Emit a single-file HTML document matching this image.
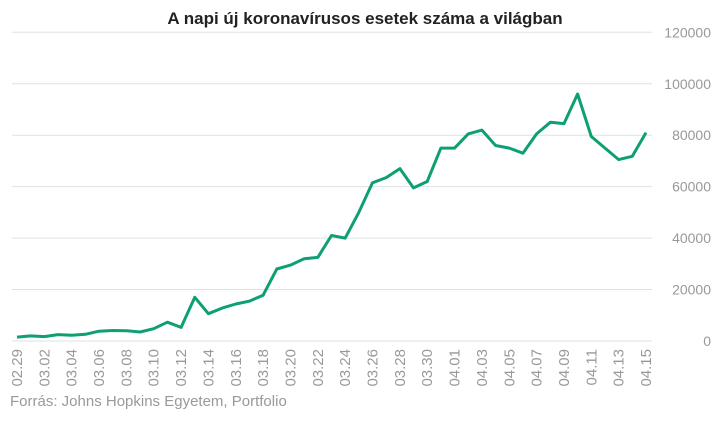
<!DOCTYPE html>
<html><head><meta charset="utf-8"><style>
body{margin:0;background:#fff;width:718px;height:417px;overflow:hidden;font-family:"Liberation Sans",sans-serif}
</style></head><body>
<svg width="718" height="417">
<text x="365" y="24" text-anchor="middle" font-size="17" font-weight="bold" fill="#222">A napi új koronavírusos esetek száma a világban</text>
<g id="grid"></g><g id="xl"></g>
<polyline id="line" fill="none" stroke="#0e9f74" stroke-width="3" stroke-linejoin="round"/>
<text x="10" y="406" font-size="15" fill="#999">Forrás: Johns Hopkins Egyetem, Portfolio</text>
</svg>
<script>
const dates=["02.29","03.01","03.02","03.03","03.04","03.05","03.06","03.07","03.08","03.09","03.10","03.11","03.12","03.13","03.14","03.15","03.16","03.17","03.18","03.19","03.20","03.21","03.22","03.23","03.24","03.25","03.26","03.27","03.28","03.29","03.30","03.31","04.01","04.02","04.03","04.04","04.05","04.06","04.07","04.08","04.09","04.10","04.11","04.12","04.13","04.14","04.15"];
const cases=[1500,2000,1700,2500,2200,2600,3800,4100,4000,3500,4800,7300,5300,17000,10600,12800,14400,15500,17800,28000,29500,32000,32500,41000,40000,50000,61500,63500,67000,59500,62000,75000,75000,80500,82000,76000,75000,73000,80500,85000,84500,96000,79500,75000,70500,71800,81000];
const yTicks=[0,20000,40000,60000,80000,100000,120000];
const NS="http://www.w3.org/2000/svg";
const x0=17,x1=646,y0=341,yTop=32.3;
const X=i=>x0+(x1-x0)*i/(dates.length-1);
const Y=v=>y0-(y0-yTop)*v/120000;
const g=document.getElementById('grid');
yTicks.forEach(t=>{
 const l=document.createElementNS(NS,'line');
 l.setAttribute('x1',12);l.setAttribute('x2',652);l.setAttribute('y1',Y(t));l.setAttribute('y2',Y(t));
 l.setAttribute('stroke','#dde3e3');l.setAttribute('stroke-width','1');
 
 
 g.appendChild(l);
 const tx=document.createElementNS(NS,'text');
 tx.setAttribute('x',711);tx.setAttribute('y',Y(t)+5);tx.setAttribute('text-anchor','end');
 tx.setAttribute('font-size','14');tx.setAttribute('fill','#999');tx.textContent=t;
 
 
 g.appendChild(tx);
});
const xl=document.getElementById('xl');
dates.forEach((d,i)=>{
 if(i%2)return;
 const tx=document.createElementNS(NS,'text');
 const x=X(i)+5,y=349;
 tx.setAttribute('transform',`translate(${x},${y}) rotate(-90)`);
 tx.setAttribute('text-anchor','end');tx.setAttribute('font-size','15');tx.setAttribute('fill','#999');
 tx.textContent=d;
 
 
 xl.appendChild(tx);
});
document.getElementById('line').setAttribute('points',cases.map((v,i)=>X(i).toFixed(1)+','+Y(v).toFixed(1)).join(' '));
</script>
</body></html>
